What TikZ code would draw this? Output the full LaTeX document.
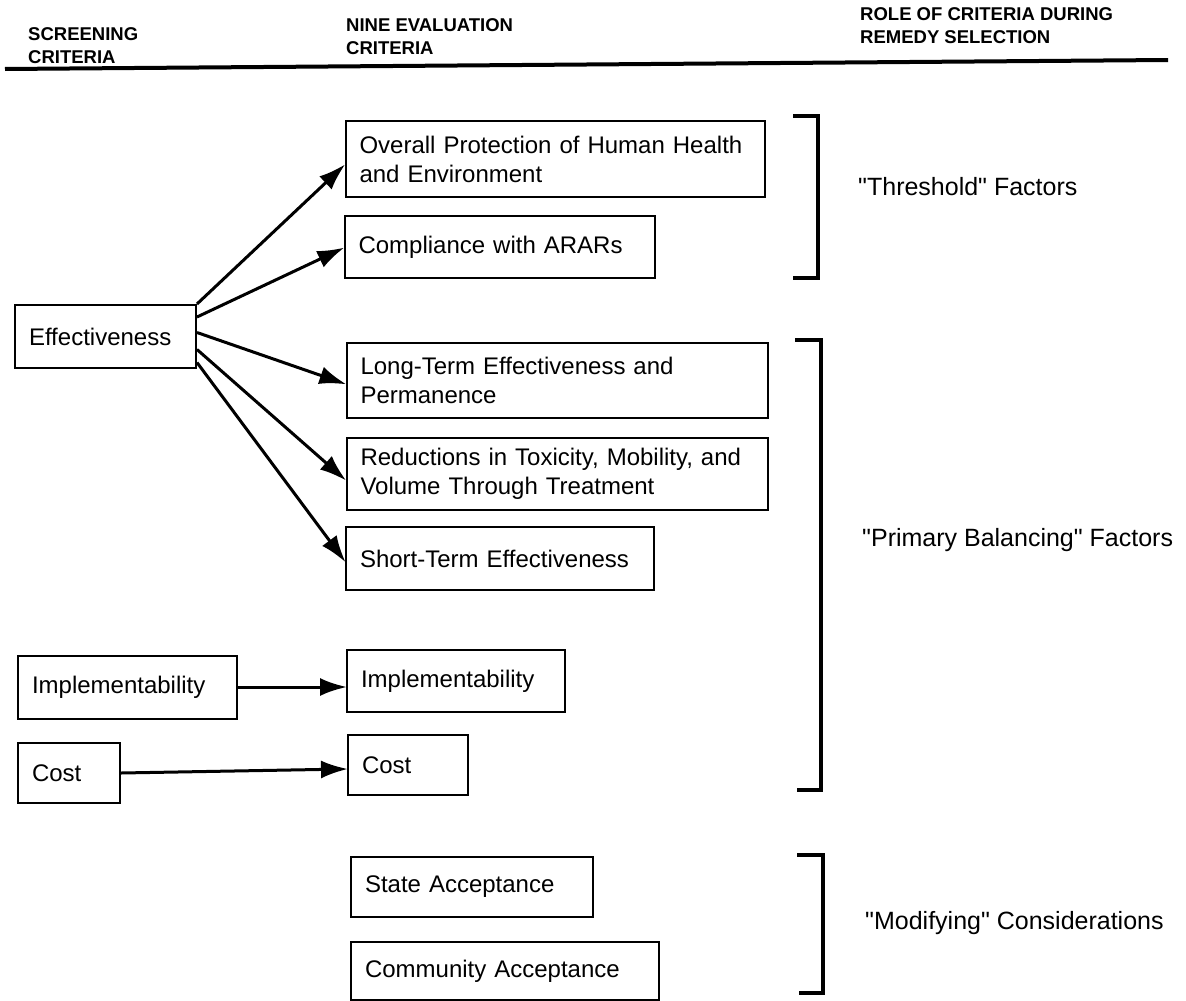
\documentclass[tikz,border=0pt]{standalone}
\usepackage{fontspec}
\setmainfont{Liberation Sans}
\usetikzlibrary{arrows.meta,calc}
\newcommand{\qq}{\textquotedbl}
\begin{document}
\begin{tikzpicture}[x=1pt,y=-1pt,
  box/.style={draw, line width=2pt, rectangle, inner xsep=14pt, inner ysep=0pt, align=left,
    font=\fontsize{24}{29}\selectfont},
  hdr/.style={anchor=west, align=left, inner sep=0pt, font=\bfseries\fontsize{18.5}{23}\selectfont},
  lbl/.style={anchor=west, inner sep=0pt, font=\fontsize{25}{30}\selectfont},
  arr/.style={line width=3pt, -{Latex[length=27pt,width=18pt]}, shorten >=-1pt},
  brk/.style={line width=4pt}]
\useasboundingbox (0,0) rectangle (1186,1001);

% headers
\node[hdr] (h1) at (28,46) {SCREENING\\CRITERIA};
\node[hdr] (h2) at (346,37) {NINE EVALUATION\\CRITERIA};
\node[hdr] (h3) at (860,26) {ROLE OF CRITERIA DURING\\REMEDY SELECTION};
\coordinate (rl) at (5,69);
\coordinate (rr) at (1168,60);
\draw[line width=4pt] (rl) -- (rr);

% screening boxes
\node[box, minimum height=63pt, text width=153pt] (eff) at (105.5,336.5) {Effectiveness};
\node[box, minimum height=63pt, text width=191pt] (impl) at (127.5,687) {Implementability};
\node[box, minimum height=60pt, text width=74pt] (cost) at (69,773) {Cost};

% evaluation boxes
\node[box, minimum height=76pt, text width=391pt] (ov) at (555,159) {Overall Protection of Human Health\\and Environment};
\node[box, minimum height=62pt, text width=282pt] (comp) at (499.5,247) {Compliance with ARARs};
\node[box, minimum height=75pt, text width=393pt] (lt) at (557,380) {Long-Term Effectiveness and\\Permanence};
\node[box, minimum height=72pt, text width=393pt] (red) at (557,474) {Reductions in Toxicity, Mobility, and\\Volume Through Treatment};
\node[box, minimum height=63pt, text width=280pt] (st) at (500,558.5) {Short-Term Effectiveness};
\node[box, minimum height=62pt, text width=190pt] (impl2) at (456,681) {Implementability};
\node[box, minimum height=60pt, text width=92pt] (cost2) at (408,765) {Cost};
\node[box, minimum height=60pt, text width=214pt] (sa) at (472,887) {State Acceptance};
\node[box, minimum height=58pt, text width=280pt] (ca) at (505,971) {Community Acceptance};

% arrows
\draw[arr] (eff.north east) -- ([yshift=-6pt]ov.west);
\draw[arr] ([yshift=-13pt]eff.north east) -- ([yshift=-1pt]comp.west);
\draw[arr] ([yshift=4pt]eff.east) -- ([yshift=-4pt]lt.west);
\draw[arr] ([yshift=-13pt]eff.east) -- ([yshift=-6pt]red.west);
\draw[arr] ([yshift=-26pt]eff.east) -- ([yshift=-3pt]st.west);
\draw[arr] (impl.east) -- ([yshift=-6pt]impl2.west);
\draw[arr] (cost.east) -- ([yshift=-4pt]cost2.west);

% brackets
\coordinate (t1) at (793,116); \coordinate (t2) at (818,116);
\coordinate (t3) at (818,278); \coordinate (t4) at (793,278);
\draw[brk] (t1) -- (t2) -- (t3) -- (t4);
\coordinate (p1) at (795,340); \coordinate (p2) at (821,340);
\coordinate (p3) at (821,790); \coordinate (p4) at (797,790);
\draw[brk] (p1) -- (p2) -- (p3) -- (p4);
\coordinate (m1) at (797,855); \coordinate (m2) at (823,855);
\coordinate (m3) at (823,993); \coordinate (m4) at (799,993);
\draw[brk] (m1) -- (m2) -- (m3) -- (m4);

\node[lbl] (lt1) at (858,187) {\qq Threshold\qq{} Factors};
\node[lbl] (lt2) at (862,540) {\qq Primary Balancing\qq{} Factors};
\node[lbl] (lt3) at (865,923) {\qq Modifying\qq{} Considerations};
\end{tikzpicture}
\end{document}
